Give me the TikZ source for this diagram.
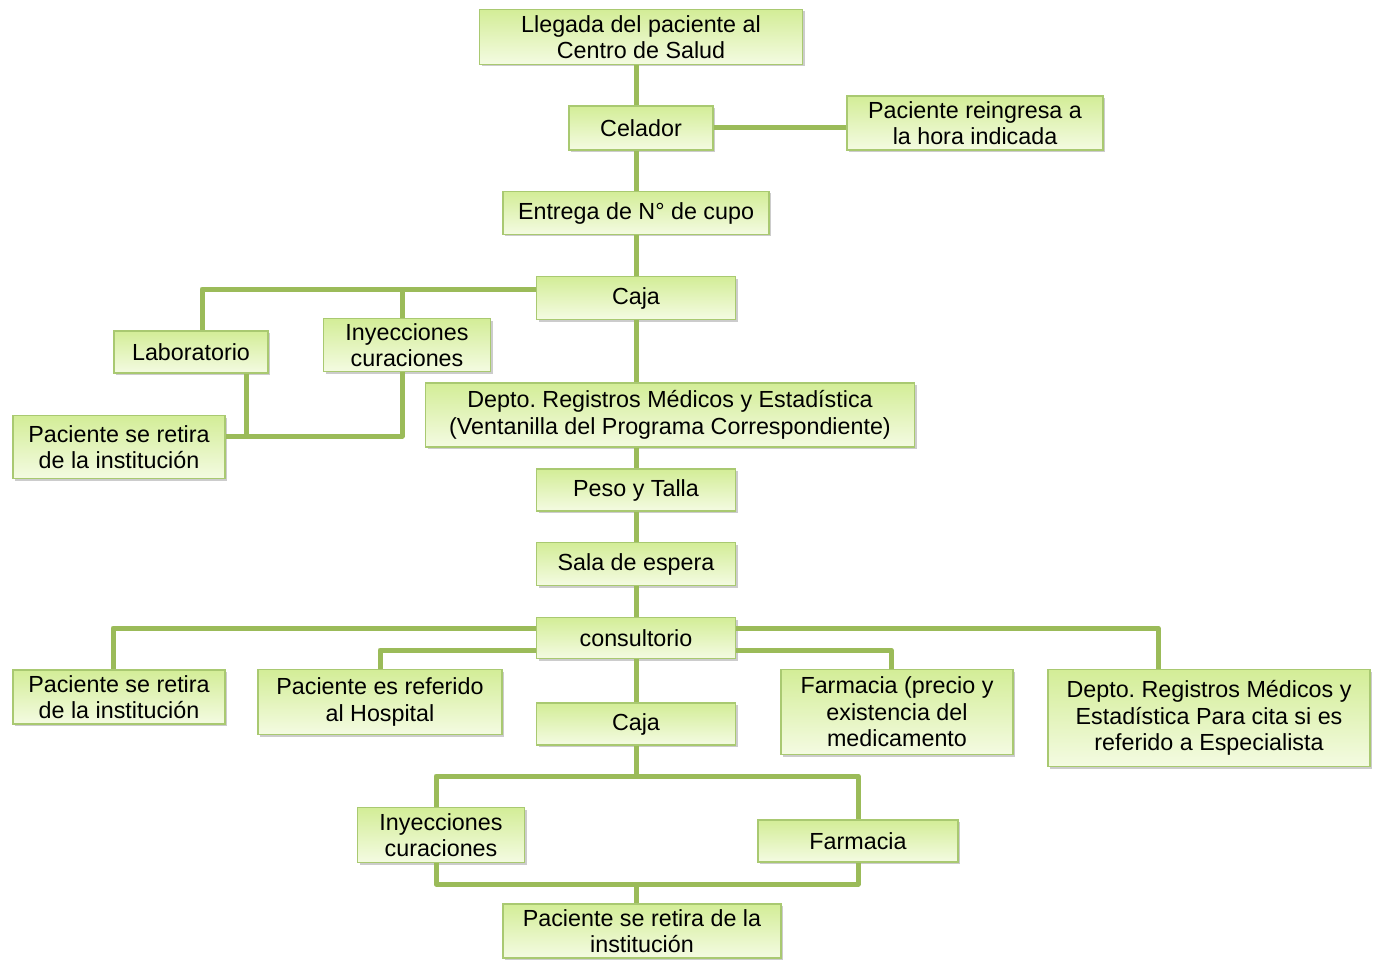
\documentclass[tikz,border=0pt]{standalone}
\usepackage{fontspec}
\setmainfont{Liberation Sans}
\usetikzlibrary{shadows}
\frenchspacing

\definecolor{boxtop}{HTML}{D3ED97}
\definecolor{boxbot}{HTML}{F4FBE2}
\definecolor{boxline}{HTML}{A9C971}
\definecolor{linkgreen}{HTML}{9BBB59}

\begin{document}
\begin{tikzpicture}[x=1pt,y=-1pt,
    paso/.style={draw=boxline,line width=1.2pt,top color=boxtop,bottom color=boxbot,
        drop shadow={shadow xshift=2pt,shadow yshift=-2pt,opacity=0.4},
        inner sep=0pt,align=center,font=\fontsize{23.3}{26.5}\selectfont},
    enlace/.style={draw=linkgreen,line width=5pt,line join=round}]
\useasboundingbox (0,0) rectangle (1376,960);

% cajas
\node[paso,minimum width=323pt,minimum height=55pt] (llegada) at (641,37) {Llegada del paciente al\\Centro de Salud};
\node[paso,minimum width=144pt,minimum height=44pt] (celador) at (641,128) {Celador};
\node[paso,minimum width=256pt,minimum height=54pt] (reingresa) at (975,123) {Paciente reingresa a\\la hora indicada};
\node[paso,minimum width=266pt,minimum height=43pt] (entrega) at (636,213) {Entrega de N° de cupo};
\node[paso,minimum width=199pt,minimum height=43pt] (caja1) at (636,298) {Caja};
\node[paso,minimum width=154pt,minimum height=42pt] (lab) at (191,352) {Laboratorio};
\node[paso,minimum width=167pt,minimum height=53pt] (iny1) at (407,345) {Inyecciones\\curaciones};
\node[paso,minimum width=489pt,minimum height=64pt] (depto1) at (670,415) {Depto. Registros Médicos y Estadística\\(Ventanilla del Programa Correspondiente)};
\node[paso,minimum width=212pt,minimum height=63pt] (retira1) at (119,447) {Paciente se retira\\de la institución};
\node[paso,minimum width=199pt,minimum height=42pt] (peso) at (636,490) {Peso y Talla};
\node[paso,minimum width=199pt,minimum height=43pt] (sala) at (636,564) {Sala de espera};
\node[paso,minimum width=199pt,minimum height=41pt] (cons) at (636,638) {consultorio};
\node[paso,minimum width=212pt,minimum height=54pt] (retira2) at (119,697) {Paciente se retira\\de la institución};
\node[paso,minimum width=244pt,minimum height=65pt] (referido) at (380,702) {Paciente es referido\\al Hospital};
\node[paso,minimum width=199pt,minimum height=42pt] (caja2) at (636,724) {Caja};
\node[paso,minimum width=232pt,minimum height=85pt] (farm1) at (897,712) {Farmacia (precio y\\existencia del\\medicamento};
\node[paso,minimum width=322pt,minimum height=97pt] (depto2) at (1209,718) {Depto. Registros Médicos y\\Estadística Para cita si es\\referido a Especialista};
\node[paso,minimum width=167pt,minimum height=55pt] (iny2) at (441,835) {Inyecciones\\curaciones};
\node[paso,minimum width=200pt,minimum height=42pt] (farm2) at (858,841) {Farmacia};
\node[paso,minimum width=278pt,minimum height=54pt] (retira3) at (642,931) {Paciente se retira de la\\institución};

% enlaces
\draw[enlace] ([xshift=-5pt]llegada.south) -- ([xshift=-5pt]celador.north);
\draw[enlace] (celador.east) -- (celador.east -| reingresa.west);
\draw[enlace] ([xshift=-5pt]celador.south) -- ([xshift=-5pt]celador.south |- entrega.north);
\draw[enlace] (entrega.south) -- (caja1.north);
\draw[enlace] ([yshift=9pt]caja1.west) -| ([xshift=11pt]lab.north);
\draw[enlace] ([xshift=-5pt]iny1.north) |- ([yshift=9pt]caja1.west);
\draw[enlace] (caja1.south) -- (caja1.south |- depto1.north);
\draw[enlace] ([xshift=-5pt]iny1.south) |- ([yshift=11pt]retira1.east);
\draw[enlace] ([xshift=55pt]lab.south) |- ([yshift=11pt]retira1.east);
\draw[enlace] (peso.north |- depto1.south) -- (peso.north);
\draw[enlace] (peso.south) -- (sala.north);
\draw[enlace] (sala.south) -- (cons.north);
\draw[enlace] ([yshift=10pt]cons.west) -| ([xshift=-6pt]retira2.north);
\draw[enlace] ([yshift=-12pt]cons.west) -| (referido.north);
\draw[enlace] ([yshift=10pt]cons.east) -| ([xshift=-51pt]depto2.north);
\draw[enlace] ([yshift=-12pt]cons.east) -| ([xshift=-6pt]farm1.north);
\draw[enlace] (cons.south) -- (caja2.north);
\coordinate (reparto) at (636,776);
\coordinate (union) at (636,884);
\draw[enlace] (caja2.south) -- (reparto);
\draw[enlace] ([xshift=-5pt]iny2.north) |- (reparto) -| (farm2.north);
\draw[enlace] ([xshift=-5pt]iny2.south) |- (union) -| (farm2.south);
\draw[enlace] (union) -- (union |- retira3.north);
\end{tikzpicture}
\end{document}
